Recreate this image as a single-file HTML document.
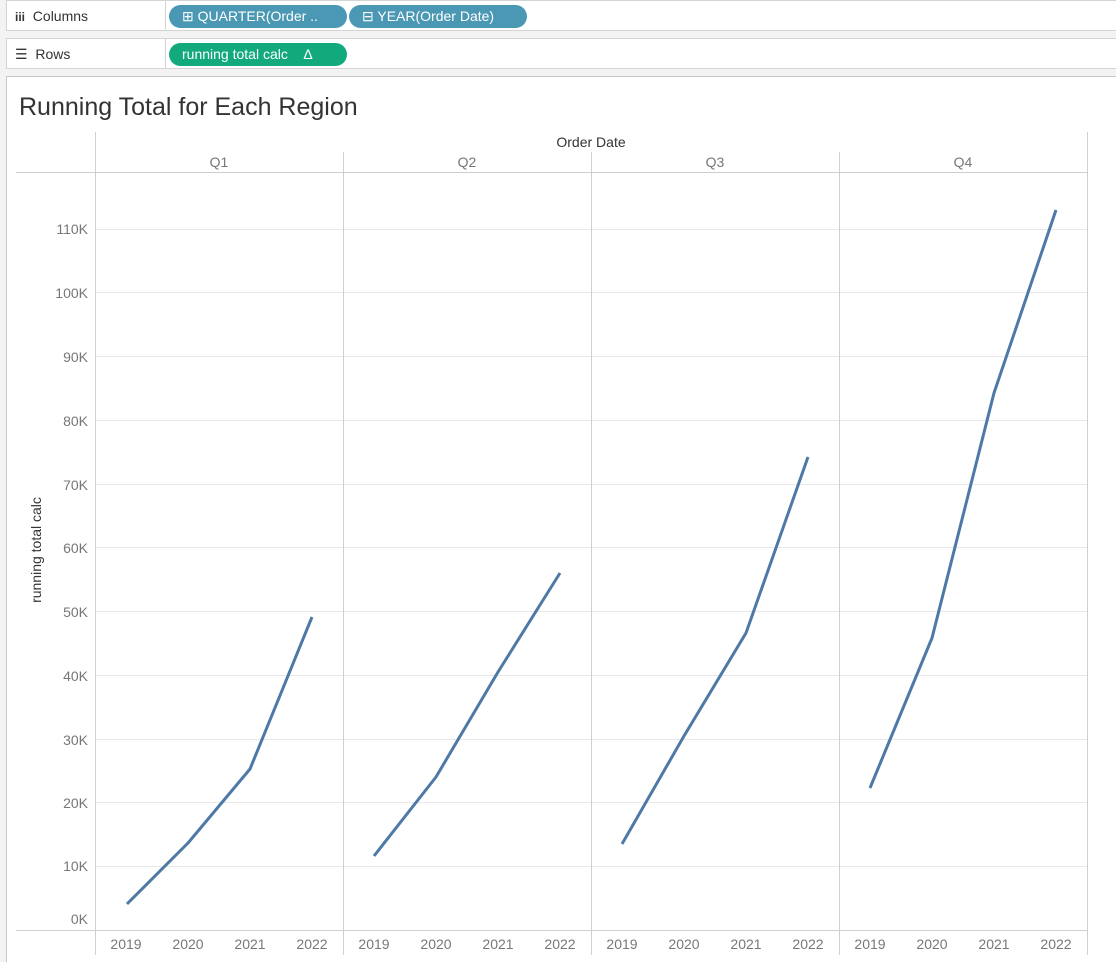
<!DOCTYPE html>
<html><head><meta charset="utf-8"><style>
body{margin:0;width:1116px;height:962px;background:#f3f3f3;font-family:"Liberation Sans",sans-serif;overflow:hidden;position:relative}
.shelf{position:absolute;left:6px;width:1116px;height:31px;background:#fff;border:1px solid #d4d4d4;box-sizing:border-box}
.lab{position:absolute;left:0;top:0;width:159px;height:100%;border-right:1px solid #d4d4d4;font-size:14px;color:#333;line-height:30px;padding-left:8px;box-sizing:border-box}
.pill{position:absolute;top:4px;height:23px;border-radius:12px;color:#fff;font-size:14px;line-height:23px;padding-left:13px;box-sizing:border-box}
</style></head><body>
<div class="shelf" style="top:0"><div class="lab"><b style="font-size:12px">iii</b>&nbsp; Columns</div>
<div class="pill" style="left:162px;width:178px;background:#4a98b3">⊞ QUARTER(Order ..</div>
<div class="pill" style="left:342px;width:178px;background:#4a98b3">⊟ YEAR(Order Date)</div></div>
<div class="shelf" style="top:38px"><div class="lab">☰&nbsp; Rows</div>
<div class="pill" style="left:162px;width:178px;background:#12aa7d">running total calc &nbsp;&nbsp; Δ</div></div>
<svg style="position:absolute;left:0;top:0" width="1116" height="962">
<rect x="6.5" y="76.5" width="1115" height="890" fill="#fff" stroke="#c8c8c8"/>
<text x="19" y="115" font-size="25" fill="#333" font-family="Liberation Sans">Running Total for Each Region</text>
<text x="591" y="147" font-size="14" fill="#333" text-anchor="middle">Order Date</text>
<g stroke="#e8e8e8" stroke-width="1">
<line x1="96" x2="1087" y1="866.5" y2="866.5"/><line x1="96" x2="1087" y1="802.5" y2="802.5"/><line x1="96" x2="1087" y1="739.5" y2="739.5"/><line x1="96" x2="1087" y1="675.5" y2="675.5"/><line x1="96" x2="1087" y1="611.5" y2="611.5"/><line x1="96" x2="1087" y1="547.5" y2="547.5"/><line x1="96" x2="1087" y1="484.5" y2="484.5"/><line x1="96" x2="1087" y1="420.5" y2="420.5"/><line x1="96" x2="1087" y1="356.5" y2="356.5"/><line x1="96" x2="1087" y1="292.5" y2="292.5"/><line x1="96" x2="1087" y1="229.5" y2="229.5"/>
</g>
<g stroke="#cfcfcf" stroke-width="1">
<line x1="95.5" x2="95.5" y1="132" y2="955"/>
<line x1="343.5" x2="343.5" y1="152" y2="955"/><line x1="591.5" x2="591.5" y1="152" y2="955"/><line x1="839.5" x2="839.5" y1="152" y2="955"/>
<line x1="1087.5" x2="1087.5" y1="132" y2="955"/>
<line x1="16" x2="1087" y1="172.5" y2="172.5"/>
<line x1="16" x2="1087" y1="930.5" y2="930.5"/>
</g>
<g font-size="14" fill="#777" text-anchor="middle">
<text x="219" y="167">Q1</text><text x="467" y="167">Q2</text><text x="715" y="167">Q3</text><text x="963" y="167">Q4</text>
</g>
<g font-size="14" fill="#777" text-anchor="end">
<text x="88" y="924">0K</text><text x="88" y="871">10K</text><text x="88" y="808">20K</text><text x="88" y="745">30K</text><text x="88" y="681">40K</text><text x="88" y="617">50K</text><text x="88" y="553">60K</text><text x="88" y="490">70K</text><text x="88" y="426">80K</text><text x="88" y="362">90K</text><text x="88" y="298">100K</text><text x="88" y="234">110K</text>
</g>
<text transform="translate(41,550) rotate(-90)" font-size="14" fill="#333" text-anchor="middle">running total calc</text>
<g font-size="14" fill="#777" text-anchor="middle">
<text x="126" y="949">2019</text><text x="188" y="949">2020</text><text x="250" y="949">2021</text><text x="312" y="949">2022</text>
<text x="374" y="949">2019</text><text x="436" y="949">2020</text><text x="498" y="949">2021</text><text x="560" y="949">2022</text>
<text x="622" y="949">2019</text><text x="684" y="949">2020</text><text x="746" y="949">2021</text><text x="808" y="949">2022</text>
<text x="870" y="949">2019</text><text x="932" y="949">2020</text><text x="994" y="949">2021</text><text x="1056" y="949">2022</text>
</g>
<g fill="none" stroke="#4e79a7" stroke-width="3" stroke-linejoin="round">
<polyline points="127,904 188,843 250,769 312,617"/>
<polyline points="374,856 436,777 498,672 560,573"/>
<polyline points="622,844 684,736 746,633 808,457"/>
<polyline points="870,788 932,638 994,393 1056,210"/>
</g>
</svg>
</body></html>
